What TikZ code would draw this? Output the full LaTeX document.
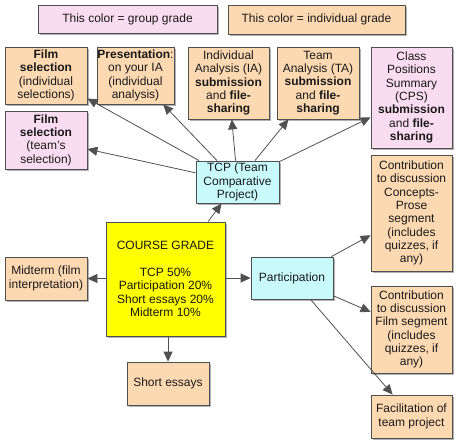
\documentclass[tikz,border=0pt]{standalone}
\usepackage{fontspec}
\setmainfont{Liberation Sans}
\usetikzlibrary{arrows.meta,shadows}
\definecolor{grp}{RGB}{250,220,240}
\definecolor{ind}{RGB}{253,217,178}
\definecolor{cyanbox}{RGB}{200,250,252}
\definecolor{ylw}{RGB}{255,255,0}
\definecolor{edge}{RGB}{80,80,80}
\definecolor{txt}{RGB}{25,25,25}
\tikzset{
  box/.style={draw=edge, line width=0.8pt, inner sep=0pt, align=center,
    text=txt, font=\fontsize{12}{13.3}\selectfont,
    drop shadow={shadow xshift=1.5pt, shadow yshift=-1.5pt, fill=black, opacity=0.3}},
  gbox/.style={box, fill=grp},
  ibox/.style={box, fill=ind},
  cbox/.style={box, fill=cyanbox},
  ybox/.style={box, fill=ylw},
  arr/.style={draw=edge, line width=0.8pt, -{Triangle[length=10pt,width=9pt]}, edge}
}
\begin{document}
\begin{tikzpicture}[x=1pt,y=-1pt]
\useasboundingbox (0,0) rectangle (461,447);
\node[gbox, minimum width=179pt, minimum height=28pt] (leg1) at (127.5,19) {This color = group grade};
\node[ibox, minimum width=177pt, minimum height=29pt] (leg2) at (316.5,19.5) {This color = individual grade};

\node[ibox, minimum width=82pt, minimum height=57pt] (filmind) at (46,75.5) {\textbf{Film}\\\textbf{selection}\\(individual\\selections)};
\node[ibox, minimum width=77pt, minimum height=57pt] (pres) at (135.5,75.5) {\textbf{Presentation}:\\on your IA\\(individual\\analysis)};
\node[ibox, minimum width=81pt, minimum height=72pt] (ia) at (228.5,83) {Individual\\Analysis (IA)\\\textbf{submission}\\and \textbf{file-}\\\textbf{sharing}};
\node[ibox, minimum width=82pt, minimum height=72pt] (ta) at (318,83) {Team\\Analysis (TA)\\\textbf{submission}\\and \textbf{file-}\\\textbf{sharing}};
\node[gbox, minimum width=81pt, minimum height=101pt] (cps) at (411.5,97.5) {Class\\Positions\\Summary\\(CPS)\\\textbf{submission}\\and \textbf{file-}\\\textbf{sharing}};
\node[gbox, minimum width=82pt, minimum height=58pt] (filmteam) at (46,140) {\textbf{Film}\\\textbf{selection}\\(team's\\selection)};
\node[cbox, minimum width=83pt, minimum height=42pt] (tcp) at (237.5,182) {TCP (Team\\Comparative\\Project)};
\node[ybox, minimum width=119pt, minimum height=114pt] (course) at (165.5,279) {COURSE GRADE\\[13.3pt]TCP 50\%\\Participation 20\%\\Short essays 20\%\\Midterm 10\%};
\node[ibox, minimum width=82pt, minimum height=43pt] (midterm) at (46,278.5) {Midterm (film\\interpretation)};
\node[cbox, minimum width=82pt, minimum height=42pt] (part) at (292,278) {Participation};
\node[ibox, minimum width=81pt, minimum height=116pt] (conc) at (411.5,213) {Contribution\\to discussion\\Concepts-\\Prose\\segment\\(includes\\quizzes, if\\any)};
\node[ibox, minimum width=81pt, minimum height=87pt] (filmc) at (411.5,329.5) {Contribution\\to discussion\\Film segment\\(includes\\quizzes, if\\any)};
\node[ibox, minimum width=82pt, minimum height=43pt] (short) at (168,383.5) {Short essays};
\node[ibox, minimum width=81pt, minimum height=43pt] (facil) at (411.5,416.5) {Facilitation of\\team project};

\draw[arr] (tcp) -- (filmind);
\draw[arr] (tcp) -- (pres);
\draw[arr] (tcp) -- (ia);
\draw[arr] (tcp) -- (ta);
\draw[arr] (tcp) -- (cps);
\draw[arr] (tcp) -- (filmteam);
\draw[arr] (course) -- (tcp);
\draw[arr] (course.west |- midterm.east) -- (midterm.east);
\draw[arr] (course.east |- part.west) -- (part.west);
\draw[arr] (course.south -| short.north) -- (short.north);
\draw[arr] (part) -- (conc);
\draw[arr] (part) -- (filmc);
\draw[arr] (part) -- (facil);
\end{tikzpicture}
\end{document}
